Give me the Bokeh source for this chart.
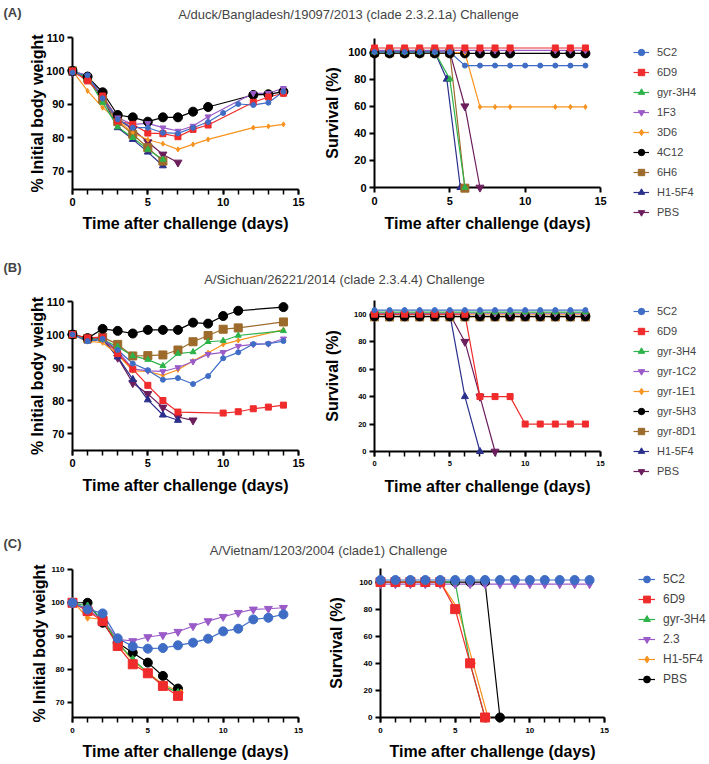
from bokeh.plotting import figure
from bokeh.models import FixedTicker, Legend, LegendItem, Label, Range1d
from bokeh.layouts import column, row
from bokeh.embed import file_html
from bokeh.resources import INLINE

FONT = "Liberation Sans"
NAN = float("nan")

# ---------------- data: panel A (A/duck/Bangladesh/19097/2013) ----------------
A_names = ["5C2", "6D9", "gyr-3H4", "1F3", "3D6", "4C12", "6H6", "H1-5F4", "PBS"]
# body weight (% initial)
A_w_5C2_d = [0, 1, 2, 3, 4, 5, 6, 7, 8, 9, 10, 11, 12, 13, 14]
A_w_5C2 = [99.5, 98.7, 91.8, 85.5, 83.0, 83.0, 81.5, 81.3, 83.0, 84.7, 87.4, 90.1, 89.8, 90.5, 93.8]
A_w_6D9_d = [0, 1, 2, 3, 4, 5, 6, 7, 8, 9, 12, 13, 14]
A_w_6D9 = [100, 97.0, 92.5, 85.0, 84.0, 81.4, 81.2, 80.3, 82.5, 83.8, 90.6, 92.2, 93.3]
A_w_3H4_d = [0, 1, 2, 3, 4, 5, 6]
A_w_3H4 = [100, 98.0, 90.5, 83.2, 80.0, 76.5, 73.5]
A_w_1F3_d = [0, 1, 2, 3, 4, 5, 6, 7, 8, 9, 12, 13, 14]
A_w_1F3 = [100, 98.5, 92.0, 86.0, 84.0, 84.3, 83.0, 82.0, 83.5, 86.3, 93.3, 93.3, 94.8]
A_w_3D6_d = [0, 1, 2, 3, 4, 5, 6, 7, 8, 9, 12, 13, 14]
A_w_3D6 = [100, 94.0, 89.0, 85.2, 81.5, 79.4, 78.2, 76.5, 78.0, 79.5, 83.0, 83.4, 84.0]
A_w_4C12_d = [0, 1, 2, 3, 4, 5, 6, 7, 8, 9, 12, 13, 14]
A_w_4C12 = [100, 98.3, 93.6, 86.8, 86.1, 84.8, 86.1, 86.1, 87.8, 89.2, 92.8, 93.0, 93.8]
A_w_6H6_d = [0, 1, 2, 3, 4, 5, 6]
A_w_6H6 = [100, 97.8, 91.5, 84.8, 81.0, 77.0, 73.0]
A_w_H15F4_d = [0, 1, 2, 3, 4, 5, 6]
A_w_H15F4 = [99.3, 98.5, 92.0, 83.0, 79.5, 75.7, 71.6]
A_w_PBS_d = [0, 1, 2, 3, 4, 5, 6, 7]
A_w_PBS = [99.5, 98.0, 92.5, 85.5, 82.5, 78.7, 75.0, 72.6]
# survival (%)
A_s_5C2_d = [0, 1, 2, 3, 4, 5, 6, 7, 8, 9, 10, 11, 12, 13, 14]
A_s_5C2 = [100, 100, 100, 100, 100, 100, 90, 90, 90, 90, 90, 90, 90, 90, 90]
A_s_6D9_d = [0, 1, 2, 3, 4, 5, 6, 7, 8, 9, 12, 13, 14]
A_s_6D9 = [100, 100, 100, 100, 100, 100, 100, 100, 100, 100, 100, 100, 100]
A_s_3H4_d = [0, 1, 2, 3, 4, 5, 6]
A_s_3H4 = [100, 100, 100, 100, 100, 80, 0]
A_s_1F3_d = [0, 1, 2, 3, 4, 5, 6, 7, 8, 9, 12, 13, 14]
A_s_1F3 = [100, 100, 100, 100, 100, 100, 100, 100, 100, 100, 100, 100, 100]
A_s_3D6_d = [0, 1, 2, 3, 4, 5, 6, 7, 8, 9, 12, 13, 14]
A_s_3D6 = [100, 100, 100, 100, 100, 100, 100, 60, 60, 60, 60, 60, 60]
A_s_4C12_d = [0, 1, 2, 3, 4, 5, 6, 7, 8, 9, 12, 13, 14]
A_s_4C12 = [100, 100, 100, 100, 100, 100, 100, 100, 100, 100, 100, 100, 100]
A_s_6H6_d = [0, 1, 2, 3, 4, 5, 6]
A_s_6H6 = [100, 100, 100, 100, 100, 100, 0]
A_s_H15F4_d = [0, 1, 2, 3, 4, 4.8, 5.7]
A_s_H15F4 = [100, 100, 100, 100, 100, 80, 0]
A_s_PBS_d = [0, 1, 2, 3, 4, 5, 6, 7]
A_s_PBS = [100, 100, 100, 100, 100, 100, 60, 0]

# ---------------- data: panel B (A/Sichuan/26221/2014) ----------------
B_names = ["5C2", "6D9", "gyr-3H4", "gyr-1C2", "gyr-1E1", "gyr-5H3", "gyr-8D1", "H1-5F4", "PBS"]
B_w_5C2_d = [0, 1, 2, 3, 4, 5, 6, 7, 8, 9, 10, 11, 12, 13, 14]
B_w_5C2 = [100, 98.0, 98.7, 95.3, 91.2, 89.2, 86.3, 86.8, 85.0, 87.4, 92.8, 94.6, 97.1, 97.2, 98.0]
B_w_6D9_d = [0, 1, 2, 3, 4, 5, 6, 7, 10, 11, 12, 13, 14]
B_w_6D9 = [100, 99.0, 99.2, 94.2, 89.5, 84.6, 80.0, 76.5, 76.2, 76.6, 77.5, 78.0, 78.6]
B_w_3H4_d = [0, 1, 2, 3, 4, 5, 6, 7, 8, 9, 10, 11, 14]
B_w_3H4 = [100, 98.5, 98.5, 96.3, 93.5, 92.4, 90.5, 94.2, 94.7, 97.8, 98.1, 99.7, 101.1]
B_w_1C2_d = [0, 1, 2, 3, 4, 5, 6, 7, 8, 9, 10, 11, 12, 13, 14]
B_w_1C2 = [100, 98.5, 98.5, 95.0, 89.6, 89.0, 88.8, 90.0, 91.8, 94.0, 94.6, 96.5, 97.0, 97.2, 98.7]
B_w_1E1_d = [0, 1, 2, 3, 4, 5, 6, 7, 8, 9, 10, 11, 14]
B_w_1E1 = [100, 98.0, 97.5, 94.0, 89.0, 88.8, 87.6, 89.3, 92.0, 94.5, 97.0, 98.2, 101.5]
B_w_5H3_d = [0, 1, 2, 3, 4, 5, 6, 7, 8, 9, 10, 11, 14]
B_w_5H3 = [100, 98.9, 101.7, 101.1, 100.3, 101.4, 101.4, 101.4, 103.6, 103.3, 105.6, 107.2, 108.3]
B_w_8D1_d = [0, 1, 2, 3, 4, 5, 6, 7, 8, 9, 10, 11, 14]
B_w_8D1 = [100, 98.8, 99.2, 97.0, 93.5, 93.6, 93.8, 95.3, 97.8, 99.7, 101.6, 102.0, 103.8]
B_w_H15F4_d = [0, 1, 2, 3, 4, 5, 6, 7]
B_w_H15F4 = [100, 98.0, 98.5, 93.2, 86.4, 80.2, 75.6, 74.0]
B_w_PBS_d = [0, 1, 2, 3, 4, 5, 6, 7, 8]
B_w_PBS = [100, 98.5, 98.8, 93.0, 85.3, 82.0, 77.9, 75.0, 74.0]
B_s_all_d = [0, 1, 2, 3, 4, 5, 6, 7, 8, 9, 10, 11, 12, 13, 14]
B_s_5C2 = [100, 100, 100, 100, 100, 100, 100, 100, 100, 100, 100, 100, 100, 100, 100]
B_s_6D9 = [100, 100, 100, 100, 100, 100, 100, 40, 40, 40, 20, 20, 20, 20, 20]
B_s_3H4 = [100, 100, 100, 100, 100, 100, 100, 100, 100, 100, 100, 100, 100, 100, 100]
B_s_1C2 = [100, 100, 100, 100, 100, 100, 100, 100, 100, 100, 100, 100, 100, 100, 100]
B_s_1E1 = [100, 100, 100, 100, 100, 100, 100, 100, 100, 100, 100, 100, 100, 100, 100]
B_s_5H3 = [100, 100, 100, 100, 100, 100, 100, 100, 100, 100, 100, 100, 100, 100, 100]
B_s_8D1 = [100, 100, 100, 100, 100, 100, 100, 100, 100, 100, 100, 100, 100, 100, 100]
B_s_H15F4_d = [0, 1, 2, 3, 4, 5, 6, 7]
B_s_H15F4 = [100, 100, 100, 100, 100, 100, 40, 0]
B_s_PBS_d = [0, 1, 2, 3, 4, 5, 6, 7, 8]
B_s_PBS = [100, 100, 100, 100, 100, 100, 80, 40, 0]

# ---------------- data: panel C (A/Vietnam/1203/2004) ----------------
C_names = ["5C2", "6D9", "gyr-3H4", "2.3", "H1-5F4", "PBS"]
C_w_5C2_d = [0, 1, 2, 3, 4, 5, 6, 7, 8, 9, 10, 11, 12, 13, 14]
C_w_5C2 = [100, 98.0, 96.8, 89.3, 86.9, 86.2, 86.4, 87.2, 88.0, 89.2, 91.4, 92.2, 95.0, 95.5, 96.5]
C_w_6D9_d = [0, 1, 2, 3, 4, 5, 6, 7]
C_w_6D9 = [100, 97.5, 94.5, 87.0, 81.5, 78.8, 75.0, 72.0]
C_w_3H4_d = [0, 1, 2, 3, 4, 5, 6, 7]
C_w_3H4 = [100, 99.0, 95.0, 88.0, 83.0, 79.0, 75.0, 73.0]
C_w_23_d = [0, 1, 2, 3, 4, 5, 6, 7, 8, 9, 10, 11, 12, 13, 14]
C_w_23 = [100, 98.0, 95.0, 89.0, 88.5, 89.7, 90.3, 91.3, 93.0, 94.5, 95.8, 97.0, 98.0, 98.2, 98.5]
C_w_H15F4_d = [0, 1, 2, 3, 4, 5, 6, 7.2]
C_w_H15F4 = [100.5, 95.5, 95.0, 88.0, 82.5, 79.0, 75.5, 73.0]
C_w_PBS_d = [0, 1, 2, 3, 4, 5, 6, 7]
C_w_PBS = [100, 100, 94.0, 88.0, 85.0, 82.0, 78.0, 74.2]
C_s_5C2_d = [0, 1, 2, 3, 4, 5, 6, 7, 8, 9, 10, 11, 12, 13, 14]
C_s_5C2 = [100, 100, 100, 100, 100, 100, 100, 100, 100, 100, 100, 100, 100, 100, 100]
C_s_6D9_d = [0, 1, 2, 3, 4, 5, 6, 7]
C_s_6D9 = [100, 100, 100, 100, 100, 80, 40, 0]
C_s_3H4_d = [0, 1, 2, 3, 4, 5, 6, 7]
C_s_3H4 = [100, 100, 100, 100, 100, 100, 40, 0]
C_s_23_d = [0, 1, 2, 3, 4, 5, 6, 7, 8, 9, 10, 11, 12, 13, 14]
C_s_23 = [100, 100, 100, 100, 100, 100, 100, 100, 100, 100, 100, 100, 100, 100, 100]
C_s_H15F4_d = [0, 1, 2, 3, 4, 5.2, 6.2, 7.2]
C_s_H15F4 = [100, 100, 100, 100, 100, 80, 40, 0]
C_s_PBS_d = [0, 1, 2, 3, 4, 5, 6, 7, 8]
C_s_PBS = [100, 100, 100, 100, 100, 100, 100, 100, 0]

# ---------------- styles ----------------
BLUE = "#3F6DC6"; RED = "#EF2B2B"; GREEN = "#2EB34A"; PURPLE = "#9A5BC8"
ORANGE = "#F7931E"; BLACK = "#000000"; BROWN = "#9C6A2A"; NAVY = "#2A2F8C"; PLUM = "#6B1D5C"

A_style = {"5C2": (BLUE, "circle", 5), "6D9": (RED, "square", 6), "gyr-3H4": (GREEN, "triangle", 6),
           "1F3": (PURPLE, "inverted_triangle", 6), "3D6": (ORANGE, "diamond", 5),
           "4C12": (BLACK, "circle", 9), "6H6": (BROWN, "square", 8),
           "H1-5F4": (NAVY, "triangle", 7), "PBS": (PLUM, "inverted_triangle", 8)}
B_style = {"5C2": (BLUE, "circle", 5), "6D9": (RED, "square", 6), "gyr-3H4": (GREEN, "triangle", 6),
           "gyr-1C2": (PURPLE, "inverted_triangle", 6), "gyr-1E1": (ORANGE, "diamond", 5),
           "gyr-5H3": (BLACK, "circle", 9), "gyr-8D1": (BROWN, "square", 8),
           "H1-5F4": (NAVY, "triangle", 7), "PBS": (PLUM, "inverted_triangle", 8)}
C_style = {"5C2": (BLUE, "circle", 9), "6D9": (RED, "square", 9), "gyr-3H4": (GREEN, "triangle", 7),
           "2.3": (PURPLE, "inverted_triangle", 8), "H1-5F4": (ORANGE, "diamond", 7),
           "PBS": (BLACK, "circle", 9)}
# small vertical display offsets GraphPad applies to overlapping survival curves
A_nudge = {"6D9": 3.0, "1F3": 1.2, "4C12": -1.0, "3D6": -0.5, "6H6": -0.5}
B_nudge = {"5C2": 3.0, "gyr-3H4": 1.5, "gyr-1C2": 0.7, "gyr-1E1": 0.0, "gyr-5H3": -1.5, "gyr-8D1": -2.0}
C_nudge = {"5C2": 1.5, "2.3": -1.5}

A_weight = [(A_w_5C2_d, A_w_5C2), (A_w_6D9_d, A_w_6D9), (A_w_3H4_d, A_w_3H4), (A_w_1F3_d, A_w_1F3),
            (A_w_3D6_d, A_w_3D6), (A_w_4C12_d, A_w_4C12), (A_w_6H6_d, A_w_6H6),
            (A_w_H15F4_d, A_w_H15F4), (A_w_PBS_d, A_w_PBS)]
A_surv = [(A_s_5C2_d, A_s_5C2), (A_s_6D9_d, A_s_6D9), (A_s_3H4_d, A_s_3H4), (A_s_1F3_d, A_s_1F3),
          (A_s_3D6_d, A_s_3D6), (A_s_4C12_d, A_s_4C12), (A_s_6H6_d, A_s_6H6),
          (A_s_H15F4_d, A_s_H15F4), (A_s_PBS_d, A_s_PBS)]
B_weight = [(B_w_5C2_d, B_w_5C2), (B_w_6D9_d, B_w_6D9), (B_w_3H4_d, B_w_3H4), (B_w_1C2_d, B_w_1C2),
            (B_w_1E1_d, B_w_1E1), (B_w_5H3_d, B_w_5H3), (B_w_8D1_d, B_w_8D1),
            (B_w_H15F4_d, B_w_H15F4), (B_w_PBS_d, B_w_PBS)]
B_surv = [(B_s_all_d, B_s_5C2), (B_s_all_d, B_s_6D9), (B_s_all_d, B_s_3H4), (B_s_all_d, B_s_1C2),
          (B_s_all_d, B_s_1E1), (B_s_all_d, B_s_5H3), (B_s_all_d, B_s_8D1),
          (B_s_H15F4_d, B_s_H15F4), (B_s_PBS_d, B_s_PBS)]
C_weight = [(C_w_5C2_d, C_w_5C2), (C_w_6D9_d, C_w_6D9), (C_w_3H4_d, C_w_3H4), (C_w_23_d, C_w_23),
            (C_w_H15F4_d, C_w_H15F4), (C_w_PBS_d, C_w_PBS)]
C_surv = [(C_s_5C2_d, C_s_5C2), (C_s_6D9_d, C_s_6D9), (C_s_3H4_d, C_s_3H4), (C_s_23_d, C_s_23),
          (C_s_H15F4_d, C_s_H15F4), (C_s_PBS_d, C_s_PBS)]

W_TOTAL = 709
WL = 318      # weight plot width
WS = 302      # survival plot width
WG = W_TOTAL - WL - WS   # legend strip width


def make_fig(width, height, yr, borders, ylabel, tick_size, y_ticks, x_minor,
             y_als, x_st, x_als):
    l, r, t, b = borders
    p = figure(width=width, height=height, x_range=Range1d(0, 15), y_range=Range1d(*yr),
               toolbar_location=None, output_backend="svg", frame_align=False,
               min_border_left=l, min_border_right=r, min_border_top=t, min_border_bottom=b)
    p.grid.visible = False
    p.outline_line_color = None
    p.xaxis.ticker = FixedTicker(ticks=[0, 5, 10, 15],
                                 minor_ticks=list(range(16)) if x_minor else [])
    p.yaxis.ticker = FixedTicker(ticks=y_ticks, minor_ticks=[])
    p.xaxis.axis_label = "Time after challenge (days)"
    p.yaxis.axis_label = ylabel
    for ax in (p.xaxis[0], p.yaxis[0]):
        ax.axis_line_width = 2
        ax.axis_line_color = "black"
        ax.major_tick_line_width = 2
        ax.major_tick_out = 5
        ax.major_tick_in = 0
        ax.minor_tick_line_width = 1.5
        ax.minor_tick_out = 5
        ax.minor_tick_in = 0
        ax.major_label_text_font = FONT
        ax.major_label_text_font_style = "bold"
        ax.major_label_text_font_size = tick_size
        ax.major_label_text_color = "black"
        ax.axis_label_text_font = FONT
        ax.axis_label_text_font_style = "bold"
        ax.axis_label_text_font_size = "16px"
        ax.axis_label_text_color = "black"
    p.yaxis.axis_label_standoff = y_als
    p.yaxis.major_label_standoff = 3
    p.xaxis.major_label_standoff = x_st
    p.xaxis.axis_label_standoff = x_als
    return p


def draw(p, names, series, style, nudge=None):
    for name, (d, v) in reversed(list(zip(names, series))):
        color, marker, size = style[name]
        off = (nudge or {}).get(name, 0.0)
        vv = [y + off for y in v]
        p.line(d, vv, line_color=color, line_width=1.2)
        p.scatter(d, vv, marker=marker, size=size, fill_color=color,
                  line_color=color, level="overlay")


def legend_strip(height, names, style, left, top, gw, fs):
    # a separate, axis-less strip that only carries the legend
    # (its swatch renderers hold a single NaN point, so they draw nothing in the strip)
    p = figure(width=WG, height=height, x_axis_type=None, y_axis_type=None,
               x_range=Range1d(0, 1), y_range=Range1d(0, 1),
               toolbar_location=None, output_backend="svg", frame_align=False,
               min_border_left=left, min_border_top=top, min_border_right=0, min_border_bottom=0)
    p.outline_line_color = None
    items = []
    for n in names:
        color, marker, size = style[n]
        lr = p.line(x=[NAN], y=[NAN], line_color=color, line_width=1.2)
        sr = p.scatter(x=[NAN], y=[NAN], marker=marker, size=size, fill_color=color,
                       line_color=color)
        items.append(LegendItem(label=n, renderers=[lr, sr]))
    lg = Legend(items=items, location="top_left", orientation="vertical", glyph_width=gw,
                glyph_height=20, label_height=20, spacing=0, padding=0, margin=0,
                label_standoff=8, border_line_color=None, background_fill_alpha=0,
                label_text_font=FONT, label_text_font_size=fs)
    p.add_layout(lg)
    return p


def header(h, tag, tag_y, title, title_x, title_y):
    p = figure(width=W_TOTAL, height=h, x_axis_type=None, y_axis_type=None,
               x_range=Range1d(0, 1), y_range=Range1d(0, 1), frame_align=False,
               toolbar_location=None, output_backend="svg", min_border=0)
    p.outline_line_color = None
    p.add_layout(Label(x=3, y=h - tag_y, x_units="screen", y_units="screen", text=tag,
                       text_font=FONT, text_font_style="bold", text_font_size="13px",
                       text_baseline="middle", text_align="left"))
    p.add_layout(Label(x=title_x, y=h - title_y, x_units="screen", y_units="screen", text=title,
                       text_font=FONT, text_font_size="13px", text_baseline="middle",
                       text_align="center"))
    return p


# ---------------- row A ----------------
hA = header(30, "(A)", 12, "A/duck/Bangladesh/19097/2013 (clade 2.3.2.1a) Challenge", 348, 14)
wA = make_fig(WL, 216, (64.5, 110), (72, 20, 7, 57), "% Initial body weight", "11px",
              [70, 80, 90, 100, 110], True, -3, 3, 6)
draw(wA, A_names, A_weight, A_style)
sA = make_fig(WS, 216, (0, 110), (56, 20, 8, 59), "Survival (%)", "11px",
              [0, 20, 40, 60, 80, 100], False, 4, 4, 7)
draw(sA, A_names, A_surv, A_style, A_nudge)
gA = legend_strip(216, A_names, A_style, 13, 12, 16, "11px")

# ---------------- row B ----------------
hB = header(43, "(B)", 21, "A/Sichuan/26221/2014 (clade 2.3.4.4) Challenge", 344, 33)
wB = make_fig(WL, 208, (64.85, 110), (72, 20, 12, 47), "% Initial body weight", "11px",
              [70, 80, 90, 100, 110], True, -3, 3, 7)
draw(wB, B_names, B_weight, B_style)
sB = make_fig(WS, 208, (0, 110), (56, 20, 11, 46), "Survival (%)", "7.5px",
              [0, 20, 40, 60, 80, 100], True, 10, 4, 9)
draw(sB, B_names, B_surv, B_style, B_nudge)
gB = legend_strip(208, B_names, B_style, 13, 12, 16, "11px")

# ---------------- row C ----------------
hC = header(62, "(C)", 46, "A/Vietnam/1203/2004 (clade1) Challenge", 328, 53)
wC = make_fig(WL, 203, (65.5, 110), (72, 20, 10, 45), "% Initial body weight", "8px",
              [70, 80, 90, 100, 110], True, 0, 5, 7)
draw(wC, C_names, C_weight, C_style)
sC = make_fig(WS, 203, (0, 110), (62, 16, 9, 45), "Survival (%)", "8px",
              [0, 20, 40, 60, 80, 100], True, 11, 5, 7)
draw(sC, C_names, C_surv, C_style, C_nudge)
gC = legend_strip(203, C_names, C_style, 18, 10, 17, "12px")

layout = column(hA, row(wA, sA, gA), hB, row(wB, sB, gB), hC, row(wC, sC, gC))

open("out.html", "w").write(file_html(layout, INLINE))
